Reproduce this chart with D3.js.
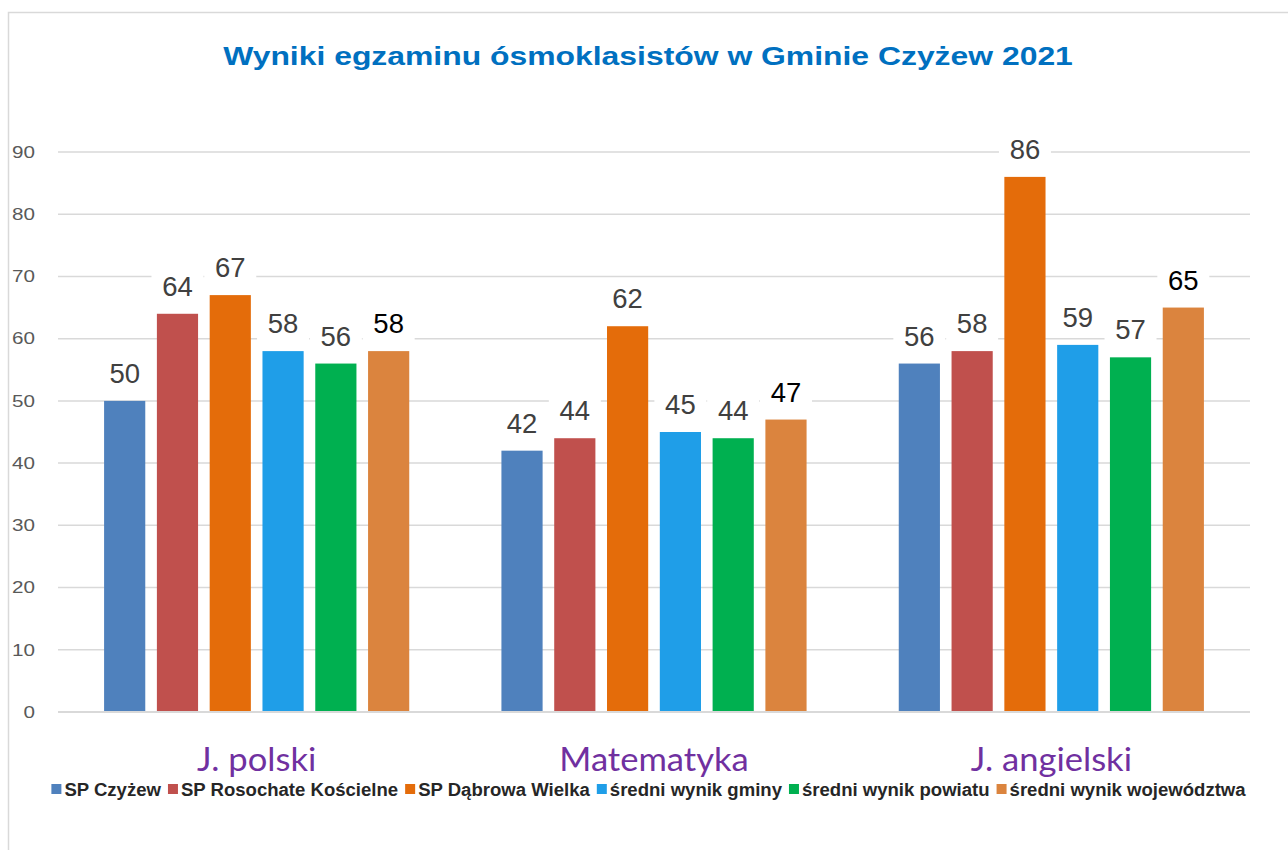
<!DOCTYPE html>
<html>
<head>
<meta charset="utf-8">
<script src="https://cdn.jsdelivr.net/npm/d3@7"></script>
<style>
  html, body { margin: 0; padding: 0; background: #fff; }
  svg { display: block; }
</style>
</head>
<body>
<svg id="chart" width="1288" height="850"></svg>
<script>
// Subjects (x categories)
const categories = ["J. polski", "Matematyka", "J. angielski"];
// Schools / averages (series)
const seriesNames = [
  "SP Czyżew",
  "SP Rosochate Kościelne",
  "SP Dąbrowa Wielka",
  "średni wynik gminy",
  "średni wynik powiatu",
  "średni wynik województwa"
];
// Results per series, in category order
const spCzyzew      = [50, 42, 56];
const spRosochate   = [64, 44, 58];
const spDabrowa     = [67, 62, 86];
const sredniaGminy  = [58, 45, 59];
const sredniaPowiat = [56, 44, 57];
const sredniaWoj    = [58, 47, 65];
const yTicks = [0, 10, 20, 30, 40, 50, 60, 70, 80, 90];
const seriesColors = ["#4F81BD", "#C0504D", "#E46C0A", "#1F9EE8", "#00B050", "#DB843E"];
const labelColors  = ["#404040", "#404040", "#404040", "#404040", "#404040", "#000000"];

const seriesValues = [spCzyzew, spRosochate, spDabrowa, sredniaGminy, sredniaPowiat, sredniaWoj];
const rows = [];
seriesValues.forEach((vals, si) => {
  vals.forEach((v, ci) => rows.push({ series: seriesNames[si], si, category: categories[ci], value: v }));
});

// widen a text element horizontally by factor k, keeping its height
function stretch(sel, k) {
  sel.each(function () {
    const w = this.getComputedTextLength();
    d3.select(this).attr("textLength", w * k).attr("lengthAdjust", "spacingAndGlyphs");
  });
}

const svg = d3.select("#chart");

// chart area frame
svg.append("rect")
  .attr("x", 8.5).attr("y", 12.5)
  .attr("width", 1300).attr("height", 860)
  .attr("fill", "#fff")
  .attr("stroke", "#D9D9D9").attr("stroke-width", 1.5);

// title
const title = svg.append("text")
  .attr("x", 648).attr("y", 65)
  .attr("text-anchor", "middle")
  .attr("font-family", "Liberation Sans, Arial, sans-serif")
  .attr("font-weight", "bold")
  .attr("font-size", 25.5)
  .attr("fill", "#0070C0")
  .text("Wyniki egzaminu ósmoklasistów w Gminie Czyżew 2021");
stretch(title, 1.25);

const plotLeft = 58, plotRight = 1250, plotTop = 152, plotBottom = 712;

const x0 = d3.scaleBand()
  .domain(categories)
  .range([plotLeft, plotRight])
  .paddingInner(0.232)
  .paddingOuter(0.116);

const x1 = d3.scaleBand()
  .domain(seriesNames)
  .range([0, x0.bandwidth()])
  .paddingInner(0.22);

const y = d3.scaleLinear().domain([0, 90]).range([plotBottom, plotTop]);

// horizontal gridlines
svg.append("g")
  .selectAll("line")
  .data(yTicks.filter(t => t > 0))
  .join("line")
  .attr("x1", plotLeft).attr("x2", plotRight)
  .attr("y1", d => y(d)).attr("y2", d => y(d))
  .attr("stroke", "#D9D9D9").attr("stroke-width", 1.5);

// y axis tick labels
const yAxis = d3.axisLeft(y).tickValues(yTicks).tickSize(0).tickPadding(0);
const yG = svg.append("g").attr("transform", "translate(35,0)").call(yAxis);
yG.select(".domain").remove();
yG.selectAll("text")
  .attr("font-family", "Liberation Sans, Arial, sans-serif")
  .attr("font-size", 16.5)
  .attr("fill", "#595959");
stretch(yG.selectAll("text"), 1.25);

// bars
const bars = svg.append("g");
bars.selectAll("rect")
  .data(rows)
  .join("rect")
  .attr("x", d => x0(d.category) + x1(d.series))
  .attr("y", d => y(d.value))
  .attr("width", x1.bandwidth())
  .attr("height", d => y(0) - y(d.value))
  .attr("fill", d => seriesColors[d.si]);

// category axis baseline
svg.append("line")
  .attr("x1", plotLeft).attr("x2", plotRight)
  .attr("y1", y(0)).attr("y2", y(0))
  .attr("stroke", "#D9D9D9").attr("stroke-width", 2);

// value labels with white backing
const labels = svg.append("g");
const lab = labels.selectAll("g")
  .data(rows)
  .join("g")
  .attr("transform", d => `translate(${x0(d.category) + x1(d.series) + x1.bandwidth() / 2},${y(d.value) - 18})`);
lab.append("rect")
  .attr("x", -26).attr("y", -26)
  .attr("width", 52).attr("height", 33)
  .attr("fill", "#fff");
lab.append("text")
  .attr("text-anchor", "middle")
  .attr("font-family", "Liberation Sans, Arial, sans-serif")
  .attr("font-size", 27.5)
  .attr("fill", d => labelColors[d.si])
  .text(d => d.value);

// category labels
const xAxis = d3.axisBottom(x0).tickSize(0).tickPadding(0);
const xG = svg.append("g").attr("transform", `translate(0,771)`).call(xAxis);
xG.select(".domain").remove();
xG.selectAll("text")
  .attr("dy", 0)
  .attr("font-family", "Lato, sans-serif")
  .attr("font-size", 32)
  .attr("fill", "#7030A0");
stretch(xG.selectAll("text"), 1.08);

// legend
const legend = svg.append("g");
const legendFont = 17.5;
const items = legend.selectAll("g")
  .data(seriesNames)
  .join("g");
items.append("rect")
  .attr("width", 10).attr("height", 10)
  .attr("y", -12)
  .attr("fill", (d, i) => seriesColors[i]);
items.append("text")
  .attr("x", 13)
  .attr("font-family", "Liberation Sans, Arial, sans-serif")
  .attr("font-weight", "bold")
  .attr("font-size", legendFont)
  .attr("fill", "#262626")
  .text(d => d);
const legendStretch = 1.06;
stretch(items.select("text"), legendStretch);
const widths = [];
items.each(function () {
  widths.push(13 + (+d3.select(this).select("text").attr("textLength")));
});
const gap = 7;
const total = d3.sum(widths) + gap * (widths.length - 1);
let cx = 648.5 - total / 2;
items.attr("transform", (d, i) => {
  const t = `translate(${cx},796)`;
  cx += widths[i] + gap;
  return t;
});
</script>
</body>
</html>
